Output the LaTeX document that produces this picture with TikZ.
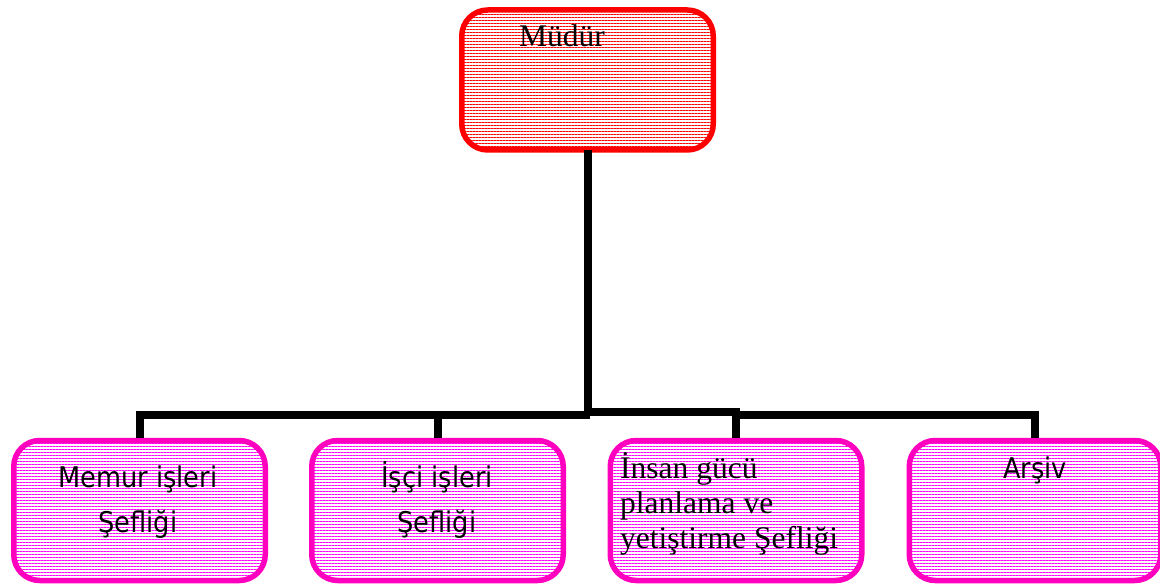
\documentclass[tikz,border=0pt]{standalone}
\usepackage{fontspec}
\setmainfont{Liberation Serif}
\newfontfamily\sansf{DejaVu Sans Condensed}
\usetikzlibrary{patterns.meta}
\definecolor{mborder}{RGB}{255,0,190}
\definecolor{mline}{RGB}{255,0,255}
\begin{document}
\begin{tikzpicture}[x=1pt,y=-1pt,
  boxbase/.style={rectangle, rounded corners=26pt, line width=5.5pt,
    minimum width=251.5pt, minimum height=140pt, inner sep=0pt},
  topbox/.style={boxbase, draw=red,
    pattern={Lines[angle=0,distance=3pt,line width=1pt]}, pattern color=red},
  subbox/.style={boxbase, draw=mborder,
    pattern={Lines[angle=0,distance=3pt,line width=1pt]}, pattern color=mline},
  conn/.style={draw=black, line width=8pt, line join=miter, line cap=butt},
  serift/.style={anchor=base west, inner sep=0pt, font=\fontsize{31.5}{35}\selectfont},
  sanst/.style={anchor=base, inner sep=0pt, font=\sansf\fontsize{28.5}{32}\selectfont},
]
\useasboundingbox (0,0) rectangle (1160,585);

\node[topbox] (mud) at (587.5,80) {};
\node[subbox] (b1) at (139.5,510.5) {};
\node[subbox] (b2) at (437.5,510.5) {};
\node[subbox] (b3) at (736,510.5) {};
\node[subbox] (b4) at (1035,510.5) {};

\coordinate (jL) at (590,415);
\coordinate (jM) at (740,412);
\coordinate (jR) at (1035,415);

\draw[conn] (mud.south) |- (jM);
\draw[conn] (b1.north) |- (jL);
\draw[conn] (b2.north) -- (b2.north |- jL);
\draw[conn] (b3.north) |- (jR) -- (b4.north);

\node[serift] (tm) at (519,47) {Müdür};

\node[sanst] (t1a) at (138,487) {Memur işleri};
\node[sanst] (t1b) at (138,532) {Şefliği};
\node[sanst] (t2a) at (437,487) {İşçi işleri};
\node[sanst] (t2b) at (437,532) {Şefliği};

\node[serift] (t3a) at (620,478) {İnsan gücü};
\node[serift] (t3b) at (620,513) {planlama ve};
\node[serift] (t3c) at (620,548) {yetiştirme Şefliği};

\node[sanst] (t4) at (1035,478) {Arşiv};
\end{tikzpicture}
\end{document}
